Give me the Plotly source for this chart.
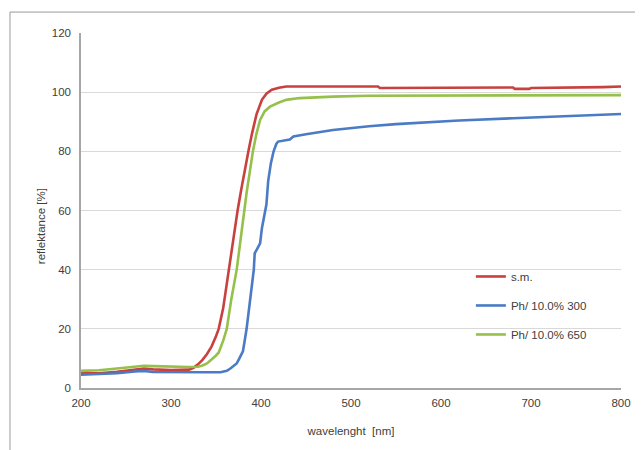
import plotly.graph_objects as go

# ---- data ----
sm_x = [200, 220, 240, 260, 270, 280, 300, 320, 325, 330, 335, 340, 345, 350, 353, 358, 364, 368, 371, 374,
        378, 382, 386, 390, 395, 401, 406, 412, 420, 428, 530, 532, 600, 680, 682, 698, 700, 750, 780, 800]
sm_y = [5.0, 5.0, 5.5, 6.2, 6.6, 6.3, 6.1, 6.2, 6.8, 8.0, 9.5, 11.5, 14, 17.5, 20, 27, 40, 48, 55, 60,
        67, 74, 80, 86, 92.5, 97.4, 99.5, 100.8, 101.5, 101.9, 101.9, 101.4, 101.5, 101.6, 101.1, 101.1, 101.4, 101.5, 101.7, 101.9]

ph300_x = [200, 220, 240, 260, 270, 280, 300, 320, 340, 355, 362, 366, 370, 373, 376, 380, 382, 384, 388, 391,
           392, 393, 396, 399, 401, 403, 406, 408, 411, 414, 417, 419, 425, 432, 436, 440, 450, 480, 500, 520,
           550, 580, 620, 680, 720, 760, 800]
ph300_y = [4.5, 4.7, 5.0, 5.6, 5.8, 5.4, 5.3, 5.3, 5.3, 5.3, 5.8, 6.6, 7.5, 8.3, 10, 12.5, 16.2, 20, 30, 38,
           40, 45.5, 47, 48.9, 54, 56.8, 62, 70, 76, 80, 82.5, 83.3, 83.6, 84, 85, 85.3, 85.8, 87.2, 87.9, 88.5,
           89.2, 89.8, 90.4, 91.2, 91.6, 92.2, 92.6]

ph650_x = [200, 220, 240, 260, 270, 280, 300, 320, 330, 335, 340, 345, 350, 353, 358, 362, 367, 373, 377, 380,
           384, 388, 391, 395, 399, 404, 410, 420, 428, 443, 460, 480, 520, 580, 585, 800]
ph650_y = [5.8, 6.0, 6.6, 7.2, 7.5, 7.4, 7.2, 7.1, 7.2, 7.6, 8.3, 9.5, 11, 12, 16, 20, 30, 40, 50, 57,
           66, 74, 80, 86, 90.6, 93.5, 95.1, 96.5, 97.4, 98, 98.3, 98.5, 98.8, 98.8, 99.0, 99.0]

series_names = ["s.m.", "Ph/ 10.0% 300", "Ph/ 10.0% 650"]
series_colors = ["#C8413E", "#4A7BC4", "#95C04A"]

x_ticks = [200, 300, 400, 500, 600, 700, 800]
y_ticks = [0, 20, 40, 60, 80, 100, 120]

FONT = "Liberation Sans, Arial, sans-serif"
TXT = "#404040"

fig = go.Figure()
for i, (xs, ys) in enumerate([(sm_x, sm_y), (ph300_x, ph300_y), (ph650_x, ph650_y)]):
    fig.add_trace(go.Scatter(
        x=xs, y=ys, mode="lines", name=series_names[i],
        legendgroup=f"g{i}",
        line=dict(color=series_colors[i], width=2.6),
    ))

# page body adds an 8px offset, so the figure is sized/placed to compensate
fig.update_layout(
    width=635, height=442,
    margin=dict(l=73, r=22, t=25, b=62),
    paper_bgcolor="white", plot_bgcolor="white",
    font=dict(family=FONT, size=11.5, color=TXT),
    legend=dict(
        x=0.722, y=0.355, xanchor="left", yanchor="top",
        bgcolor="rgba(0,0,0,0)", borderwidth=0,
        tracegroupgap=10, itemwidth=30,
        font=dict(family=FONT, size=11.5, color=TXT),
    ),
    xaxis=dict(
        range=[200, 800], tickvals=x_ticks, ticktext=[str(v) for v in x_ticks],
        showgrid=False, zeroline=False,
        showline=True, linecolor="#A6A6A6", linewidth=1.5,
        ticks="", ticklabelstandoff=3,
        title=dict(text="wavelenght  [nm]", standoff=19, font=dict(size=11.5)),
    ),
    yaxis=dict(
        range=[0, 120], tickvals=y_ticks, ticktext=[str(v) for v in y_ticks],
        showgrid=True, gridcolor="#D9D9D9", gridwidth=1.2, zeroline=False,
        showline=True, linecolor="#A6A6A6", linewidth=1.5,
        ticks="", ticklabelstandoff=6,
    ),
    annotations=[dict(
        text="reflektance [%]", textangle=-90, xref="paper", yref="paper",
        x=-0.074, y=0.456, xanchor="center", yanchor="middle", showarrow=False,
        font=dict(family=FONT, size=11.5, color=TXT),
    )],
    shapes=[
        dict(type="line", xref="paper", yref="paper", x0=-0.1315, x1=-0.1315, y0=1.059, y1=-0.2,
             line=dict(color="#9A9A9A", width=1)),
        dict(type="line", xref="paper", yref="paper", x0=-0.1315, x1=1.05, y0=1.059, y1=1.059,
             line=dict(color="#9A9A9A", width=1)),
    ],
)

fig.write_html("out.html")
